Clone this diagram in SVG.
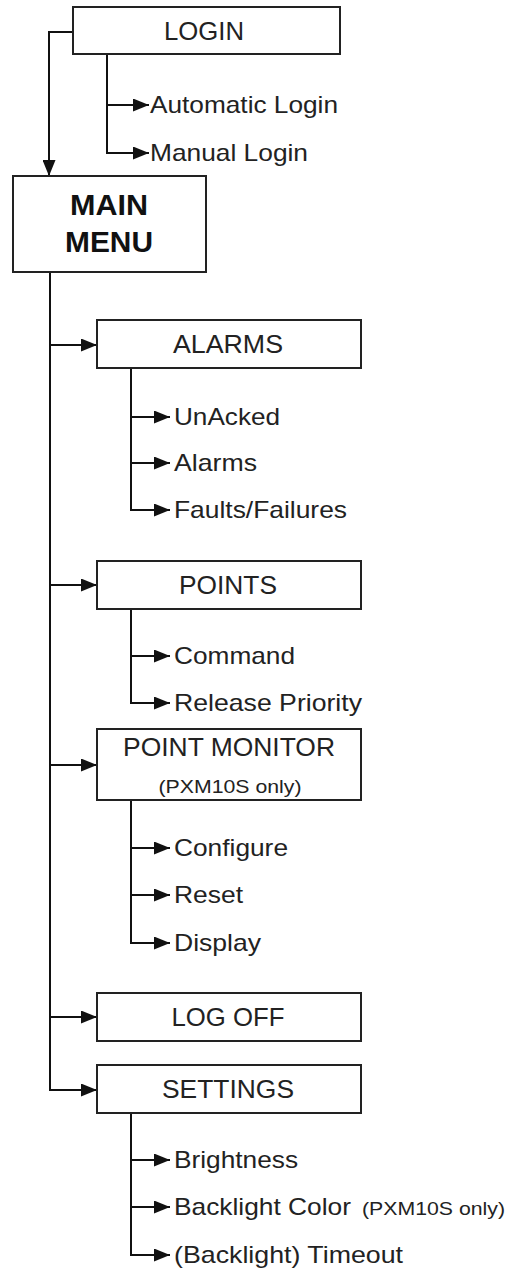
<svg xmlns="http://www.w3.org/2000/svg" width="507" height="1273" viewBox="0 0 507 1273">
<style>
.box{fill:#fff;stroke:#222;stroke-width:2}
.con{fill:none;stroke:#111;stroke-width:2}
.h{font-family:"Liberation Sans",Arial,sans-serif;font-size:25px;fill:#222;text-anchor:middle}
.s{font-family:"Liberation Sans",Arial,sans-serif;font-size:24px;fill:#222}
.m{font-family:"Liberation Sans",Arial,sans-serif;font-size:30px;font-weight:bold;fill:#111;text-anchor:middle}
.p{font-family:"Liberation Sans",Arial,sans-serif;font-size:19px;fill:#222}
</style>
<defs>
<marker id="ah" viewBox="0 0 16 13" markerWidth="16" markerHeight="13" refX="16" refY="6.5" orient="auto" markerUnits="userSpaceOnUse">
<path d="M0,0 L16,6.5 L0,13 Z" fill="#111"/>
</marker>
</defs>
<g id="connectors">
<path class="con" d="M73,32 H49 V176" marker-end="url(#ah)"/>
<path class="con" d="M107,54 V153 H149" marker-end="url(#ah)"/>
<path class="con" d="M107,105 H149" marker-end="url(#ah)"/>
<path class="con" d="M50,272 V1090 H97" marker-end="url(#ah)"/>
<path class="con" d="M50,345 H97" marker-end="url(#ah)"/>
<path class="con" d="M50,585 H97" marker-end="url(#ah)"/>
<path class="con" d="M50,765 H97" marker-end="url(#ah)"/>
<path class="con" d="M50,1017 H97" marker-end="url(#ah)"/>
<path class="con" d="M131,368 V510 H170" marker-end="url(#ah)"/>
<path class="con" d="M131,417 H170" marker-end="url(#ah)"/>
<path class="con" d="M131,463 H170" marker-end="url(#ah)"/>
<path class="con" d="M131,609 V703 H170" marker-end="url(#ah)"/>
<path class="con" d="M131,656 H170" marker-end="url(#ah)"/>
<path class="con" d="M131,800 V943 H170" marker-end="url(#ah)"/>
<path class="con" d="M131,848 H170" marker-end="url(#ah)"/>
<path class="con" d="M131,895 H170" marker-end="url(#ah)"/>
<path class="con" d="M131,1113 V1255 H170" marker-end="url(#ah)"/>
<path class="con" d="M131,1160 H170" marker-end="url(#ah)"/>
<path class="con" d="M131,1207 H170" marker-end="url(#ah)"/>
</g>
<g id="login">
<rect class="box" x="73" y="7" width="267" height="47"/>
<text class="h" x="204" y="39.5" textLength="80" lengthAdjust="spacingAndGlyphs">LOGIN</text>
</g>
<g id="automatic-login"><text class="s" x="150" y="113" textLength="188" lengthAdjust="spacingAndGlyphs">Automatic Login</text></g>
<g id="manual-login"><text class="s" x="150" y="161" textLength="158" lengthAdjust="spacingAndGlyphs">Manual Login</text></g>
<g id="main-menu">
<rect class="box" x="13" y="176" width="193" height="96"/>
<text class="m" x="109" y="215" textLength="78" lengthAdjust="spacingAndGlyphs">MAIN</text>
<text class="m" x="109" y="252" textLength="88" lengthAdjust="spacingAndGlyphs">MENU</text>
</g>
<g id="alarms">
<rect class="box" x="97" y="320" width="264" height="48"/>
<text class="h" x="228" y="352.5" textLength="110" lengthAdjust="spacingAndGlyphs">ALARMS</text>
</g>
<g id="unacked"><text class="s" x="174" y="425" textLength="106" lengthAdjust="spacingAndGlyphs">UnAcked</text></g>
<g id="alarms-item"><text class="s" x="174" y="471" textLength="83" lengthAdjust="spacingAndGlyphs">Alarms</text></g>
<g id="faults"><text class="s" x="174" y="518" textLength="173" lengthAdjust="spacingAndGlyphs">Faults/Failures</text></g>
<g id="points">
<rect class="box" x="97" y="561" width="264" height="48"/>
<text class="h" x="228" y="593.5" textLength="98" lengthAdjust="spacingAndGlyphs">POINTS</text>
</g>
<g id="command"><text class="s" x="174" y="664" textLength="121" lengthAdjust="spacingAndGlyphs">Command</text></g>
<g id="release-priority"><text class="s" x="174" y="711" textLength="188" lengthAdjust="spacingAndGlyphs">Release Priority</text></g>
<g id="point-monitor">
<rect class="box" x="97" y="729" width="264" height="71"/>
<text class="h" x="229" y="756" textLength="212" lengthAdjust="spacingAndGlyphs">POINT MONITOR</text>
<text class="p" x="230" y="793" text-anchor="middle" textLength="143" lengthAdjust="spacingAndGlyphs">(PXM10S only)</text>
</g>
<g id="configure"><text class="s" x="174" y="856" textLength="114" lengthAdjust="spacingAndGlyphs">Configure</text></g>
<g id="reset"><text class="s" x="174" y="903" textLength="69" lengthAdjust="spacingAndGlyphs">Reset</text></g>
<g id="display"><text class="s" x="174" y="951" textLength="87" lengthAdjust="spacingAndGlyphs">Display</text></g>
<g id="log-off">
<rect class="box" x="97" y="993" width="264" height="48"/>
<text class="h" x="228" y="1025.5" textLength="113" lengthAdjust="spacingAndGlyphs">LOG OFF</text>
</g>
<g id="settings">
<rect class="box" x="97" y="1065" width="264" height="48"/>
<text class="h" x="228" y="1097.5" textLength="132" lengthAdjust="spacingAndGlyphs">SETTINGS</text>
</g>
<g id="brightness"><text class="s" x="174" y="1168" textLength="124" lengthAdjust="spacingAndGlyphs">Brightness</text></g>
<g id="backlight-color"><text class="s" x="174" y="1215" textLength="177" lengthAdjust="spacingAndGlyphs">Backlight Color</text><text class="p" x="362" y="1215" textLength="143" lengthAdjust="spacingAndGlyphs">(PXM10S only)</text></g>
<g id="timeout"><text class="s" x="174" y="1263" textLength="229" lengthAdjust="spacingAndGlyphs">(Backlight) Timeout</text></g>
</svg>
